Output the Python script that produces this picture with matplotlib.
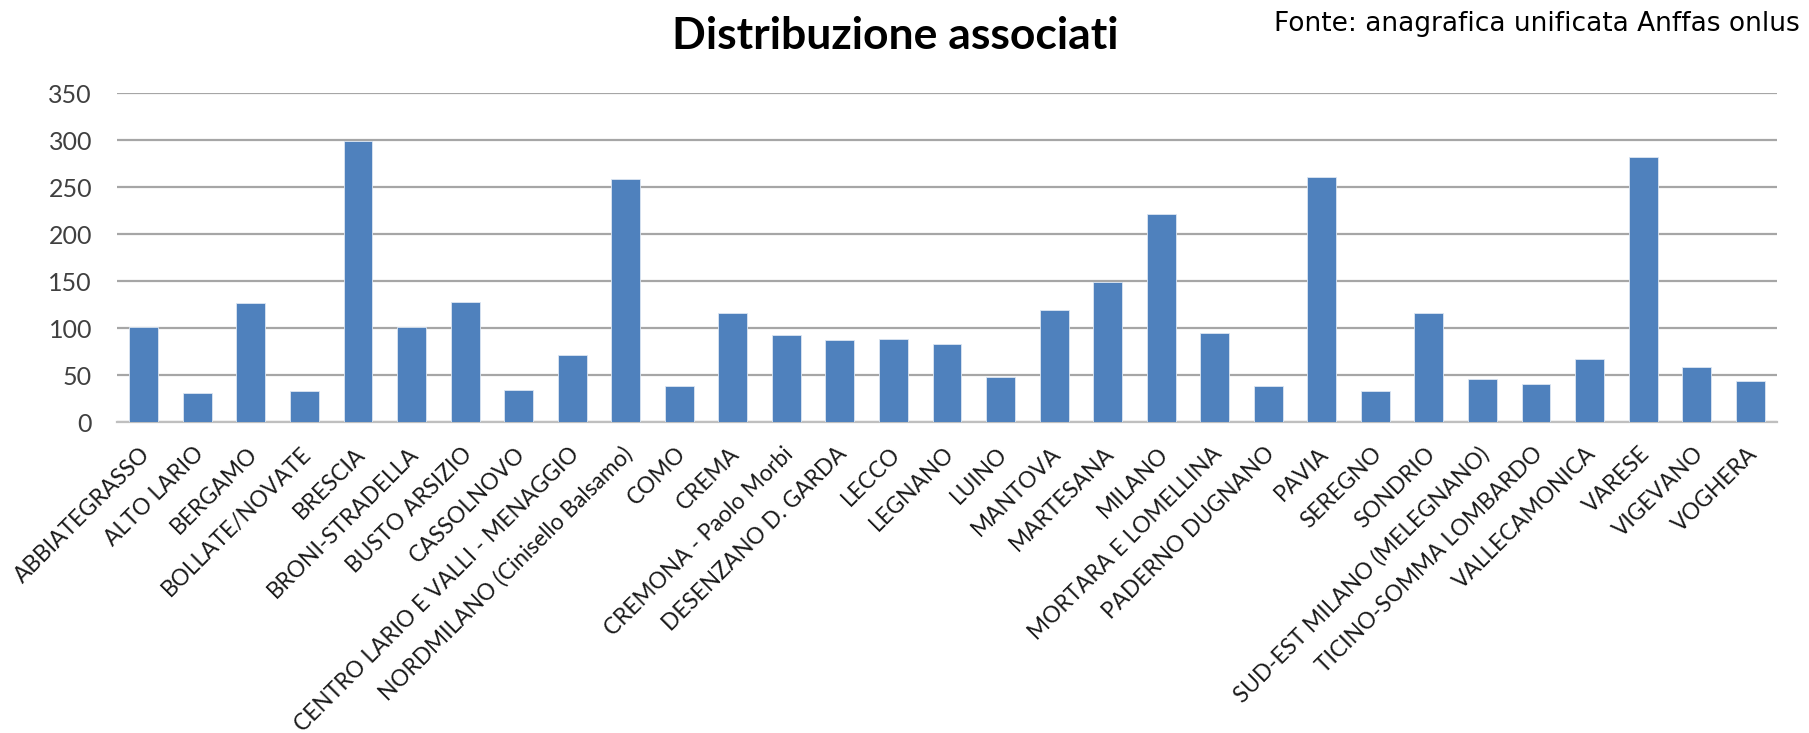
import matplotlib
matplotlib.use('Agg')
import matplotlib.pyplot as plt
import matplotlib.transforms as mtransforms
import numpy as np

categories = [
    'ABBIATEGRASSO', 'ALTO LARIO', 'BERGAMO', 'BOLLATE/NOVATE', 'BRESCIA',
    'BRONI-STRADELLA', 'BUSTO ARSIZIO', 'CASSOLNOVO',
    'CENTRO LARIO E VALLI - MENAGGIO', 'NORDMILANO (Cinisello Balsamo)',
    'COMO', 'CREMA', 'CREMONA - Paolo Morbi', 'DESENZANO D. GARDA', 'LECCO',
    'LEGNANO', 'LUINO', 'MANTOVA', 'MARTESANA', 'MILANO',
    'MORTARA E LOMELLINA', 'PADERNO DUGNANO', 'PAVIA', 'SEREGNO', 'SONDRIO',
    'SUD-EST MILANO (MELEGNANO)', 'TICINO-SOMMA LOMBARDO', 'VALLECAMONICA',
    'VARESE', 'VIGEVANO', 'VOGHERA',
]
associati = [
    101, 31, 127, 33, 299, 101, 128, 34, 71, 259,
    38, 116, 93, 87, 89, 83, 48, 119, 149, 221,
    95, 38, 261, 33, 116, 46, 41, 67, 282, 59, 44,
]
yticks = [0, 50, 100, 150, 200, 250, 300, 350]

plt.rcParams['font.family'] = ['Lato', 'DejaVu Sans']

fig = plt.figure(figsize=(18.09, 7.33), dpi=100)
ax = fig.add_axes([0.0647, 0.424, 0.9176, 0.449])

x = np.arange(len(categories))
ax.bar(x, associati, width=0.54, color='#4F81BD', edgecolor='#dce6f2',
       linewidth=0.6, zorder=3)

ax.set_xlim(-0.5, len(categories) - 0.5)
ax.set_ylim(0, 350)
ax.set_yticks(yticks)
ax.yaxis.grid(True, color='#a6a6a6', linewidth=1.6, zorder=0)
ax.set_axisbelow(True)
for s in ['top', 'right', 'left']:
    ax.spines[s].set_visible(False)
ax.spines['bottom'].set_color('#bfbfbf')
ax.spines['bottom'].set_linewidth(1.6)
ax.tick_params(axis='both', length=0)
ax.tick_params(axis='y', labelsize=18, labelcolor='#404040', pad=18)

ax.set_xticks(x)
ax.set_xticklabels(categories, rotation=45, ha='right', va='top',
                   rotation_mode='anchor', fontsize=16.3, color='#1a1a1a')
ax.tick_params(axis='x', pad=15)
# nudge the slanted labels so their ends sit under the bars
shift = mtransforms.ScaledTranslation(-4 / 100, 0, fig.dpi_scale_trans)
for lbl in ax.get_xticklabels():
    lbl.set_transform(lbl.get_transform() + shift)

fig.text(0.495, 0.951, 'Distribuzione associati', ha='center', va='center',
         fontsize=32, fontweight='bold', color='black')
fig.text(0.995, 0.967, 'Fonte: anagrafica unificata Anffas onlus', ha='right',
         va='center', fontsize=19, color='black', family='DejaVu Sans')

fig.savefig('out.png', dpi=100)
